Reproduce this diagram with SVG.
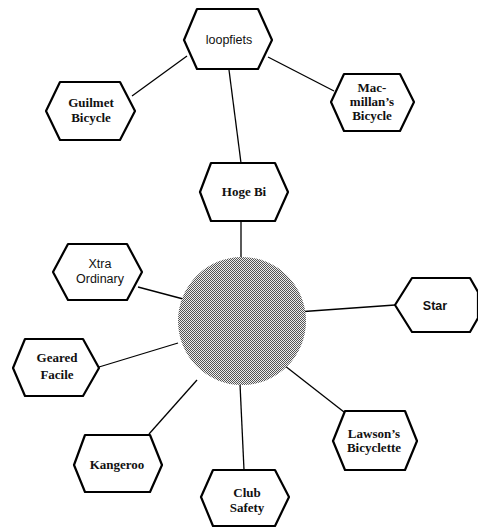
<svg xmlns="http://www.w3.org/2000/svg" width="478" height="529" viewBox="0 0 478 529">
<style>
.hex{fill:#fff;stroke:#000;stroke-width:2.2;stroke-linejoin:round}
.lbl{font-family:"Liberation Serif",serif;font-weight:bold;font-size:13px;text-anchor:middle;fill:#111}
.sans{font-family:"Liberation Sans",sans-serif;font-weight:normal;font-size:12.5px}
.conn line{stroke:#000;stroke-width:1.3}
</style>
<defs>
<pattern id="dots" width="2" height="2" patternUnits="userSpaceOnUse">
<rect width="2" height="2" fill="#eeeeee"/>
<rect x="0" y="0" width="1" height="1" fill="#555"/>
<rect x="1" y="1" width="1" height="1" fill="#555"/>
</pattern>
</defs>
<rect width="478" height="529" fill="#fff"/>
<g id="connectors" class="conn">
<line x1="187" y1="56" x2="132" y2="96"/>
<line x1="268" y1="57" x2="334" y2="91"/>
<line x1="229" y1="70" x2="241" y2="163"/>
<line x1="241" y1="221" x2="241" y2="262"/>
<line x1="138" y1="287" x2="187" y2="300"/>
<line x1="99" y1="367" x2="178" y2="343"/>
<line x1="297" y1="312" x2="395" y2="305"/>
<line x1="280" y1="362" x2="344" y2="412"/>
<line x1="240" y1="384" x2="244" y2="470"/>
<line x1="197" y1="380" x2="149" y2="434"/>
</g>
<g id="hub">
<circle cx="242" cy="321" r="64" fill="url(#dots)"/>
</g>
<g id="loopfiets">
<polygon class="hex" points="184,40 197,9 258,9 272,40 258,69 197,69"/>
<text class="lbl sans" x="229" y="44">loopfiets</text>
</g>
<g id="guilmet">
<polygon class="hex" points="46,111 60,82 120,82 135,111 120,140 60,140"/>
<text class="lbl" x="91" y="107">Guilmet</text>
<text class="lbl" x="91" y="122">Bicycle</text>
</g>
<g id="macmillan">
<polygon class="hex" points="331,102 344,74 400,74 414,102 400,131 344,131"/>
<text class="lbl" x="372" y="92">Mac-</text>
<text class="lbl" x="372" y="106">millan’s</text>
<text class="lbl" x="372" y="120">Bicycle</text>
</g>
<g id="hoge-bi">
<polygon class="hex" points="200,192 211,163 275,163 288,192 275,221 211,221"/>
<text class="lbl" x="244" y="196">Hoge Bi</text>
</g>
<g id="xtra-ordinary">
<polygon class="hex" points="53,272 68,244 127,244 142,272 127,300 68,300"/>
<text class="lbl sans" x="100" y="268">Xtra</text>
<text class="lbl sans" x="100" y="283">Ordinary</text>
</g>
<g id="star">
<polygon class="hex" points="395,305 412,278 470,278 478,292 478,318 470,332 412,332"/>
<text class="lbl sans" x="435" y="310" style="font-weight:bold">Star</text>
</g>
<g id="geared-facile">
<polygon class="hex" points="13,368 25,339 83,339 99,368 83,396 25,396"/>
<text class="lbl" x="57" y="362">Geared</text>
<text class="lbl" x="57" y="379">Facile</text>
</g>
<g id="kangeroo">
<polygon class="hex" points="74,465 85,435 150,435 162,465 150,492 85,492"/>
<text class="lbl" x="117" y="469">Kangeroo</text>
</g>
<g id="club-safety">
<polygon class="hex" points="201,497 213,470 275,470 289,497 275,526 213,526"/>
<text class="lbl" x="247" y="497">Club</text>
<text class="lbl" x="247" y="512">Safety</text>
</g>
<g id="lawson">
<polygon class="hex" points="333,441 345,411 405,411 417,441 405,470 345,470"/>
<text class="lbl" x="374" y="438">Lawson’s</text>
<text class="lbl" x="374" y="452">Bicyclette</text>
</g>
</svg>
